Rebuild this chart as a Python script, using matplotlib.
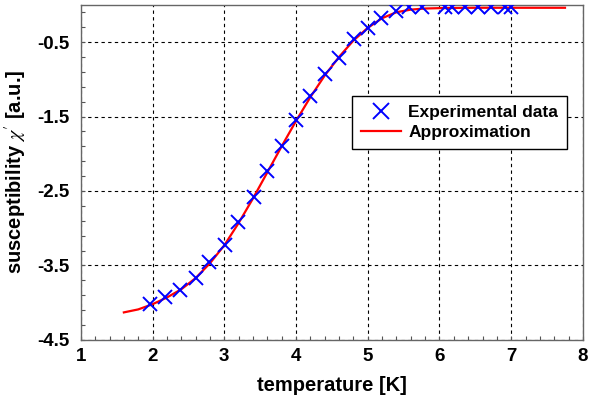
import numpy as np
import matplotlib
matplotlib.use('Agg')
import matplotlib.pyplot as plt
from matplotlib.ticker import MultipleLocator, FixedLocator

plt.rcParams['font.family'] = ['Liberation Sans', 'DejaVu Sans']
plt.rcParams['mathtext.fontset'] = 'stix'
plt.rcParams['axes.unicode_minus'] = False

T_exp = [1.97, 2.18, 2.38, 2.60, 2.79, 3.01, 3.19, 3.42, 3.60, 3.81, 4.00, 4.19,
         4.40, 4.60, 4.81, 5.00, 5.19, 5.40, 5.57, 5.75, 6.08, 6.17, 6.36, 6.54,
         6.72, 6.92, 7.00]
chi_exp = [-4.02, -3.93, -3.83, -3.67, -3.45, -3.22, -2.91, -2.58, -2.23, -1.90,
           -1.55, -1.23, -0.93, -0.71, -0.46, -0.31, -0.18, -0.09, -0.03, -0.03,
           -0.03, -0.03, -0.03, -0.03, -0.03, -0.03, -0.03]

# approximation curve
T_fit = [1.6, 1.8, 2.0, 2.2, 2.4, 2.6, 2.8, 3.0, 3.2, 3.4, 3.6, 3.8, 4.0, 4.2,
         4.4, 4.6, 4.8, 5.0, 5.2, 5.4, 5.6, 5.8, 6.0, 6.5, 7.0, 7.75]
chi_fit = [-4.13, -4.09, -4.02, -3.93, -3.82, -3.67, -3.47, -3.23, -2.93, -2.60,
           -2.25, -1.90, -1.56, -1.24, -0.95, -0.70, -0.48, -0.31, -0.18, -0.10,
           -0.065, -0.05, -0.045, -0.04, -0.04, -0.04]

fig = plt.figure(figsize=(5.9, 3.99), dpi=100)
ax = fig.add_axes([0.137, 0.148, 0.851, 0.840])

ax.plot(T_exp, chi_exp, 'x', color='#0000ff', markersize=10, markeredgewidth=1.4,
        label='Experimental data', zorder=3)
ax.plot(T_fit, chi_fit, '-', color='#ff0000', linewidth=1.6, label='Approximation', zorder=2)

ax.set_xlim(1, 8)
ax.set_ylim(-4.5, 0)
ax.xaxis.set_major_locator(MultipleLocator(1))
ax.xaxis.set_minor_locator(MultipleLocator(0.2))
ax.yaxis.set_major_locator(FixedLocator([-4.5, -3.5, -2.5, -1.5, -0.5]))
ax.yaxis.set_minor_locator(FixedLocator(np.arange(-4.5, 0, 0.2)))

ax.tick_params(which='both', direction='in', top=False, right=False, length=3,
               width=0.8, color='#555555')
ax.tick_params(which='major', labelsize=13.5)
ax.tick_params(axis='x', which='major', pad=6)
ax.tick_params(axis='y', which='major', pad=8)
for lab in ax.get_xticklabels() + ax.get_yticklabels():
    lab.set_fontweight('bold')

ax.grid(True, which='major', linestyle=(0, (3, 3)), color='black', linewidth=0.8)

for s in ax.spines.values():
    s.set_color('#666666')
    s.set_linewidth(1.0)

ax.set_xlabel('temperature [K]', fontsize=14.5, fontweight='bold', labelpad=8)
ax.set_ylabel(r"susceptibility $\chi^{\prime}$ [a.u.]", fontsize=14.5, fontweight='bold', labelpad=6)

leg = ax.legend(loc='upper left', bbox_to_anchor=(0.54, 0.727), prop={'weight': 'bold', 'size': 12.5},
                frameon=True, fancybox=False, edgecolor='black', framealpha=1,
                handlelength=2.3, borderpad=0.5, labelspacing=0.3, handletextpad=0.45,
                borderaxespad=0, markerscale=1.1)
leg.get_frame().set_linewidth(1.0)

plt.savefig('out.png', dpi=100)
